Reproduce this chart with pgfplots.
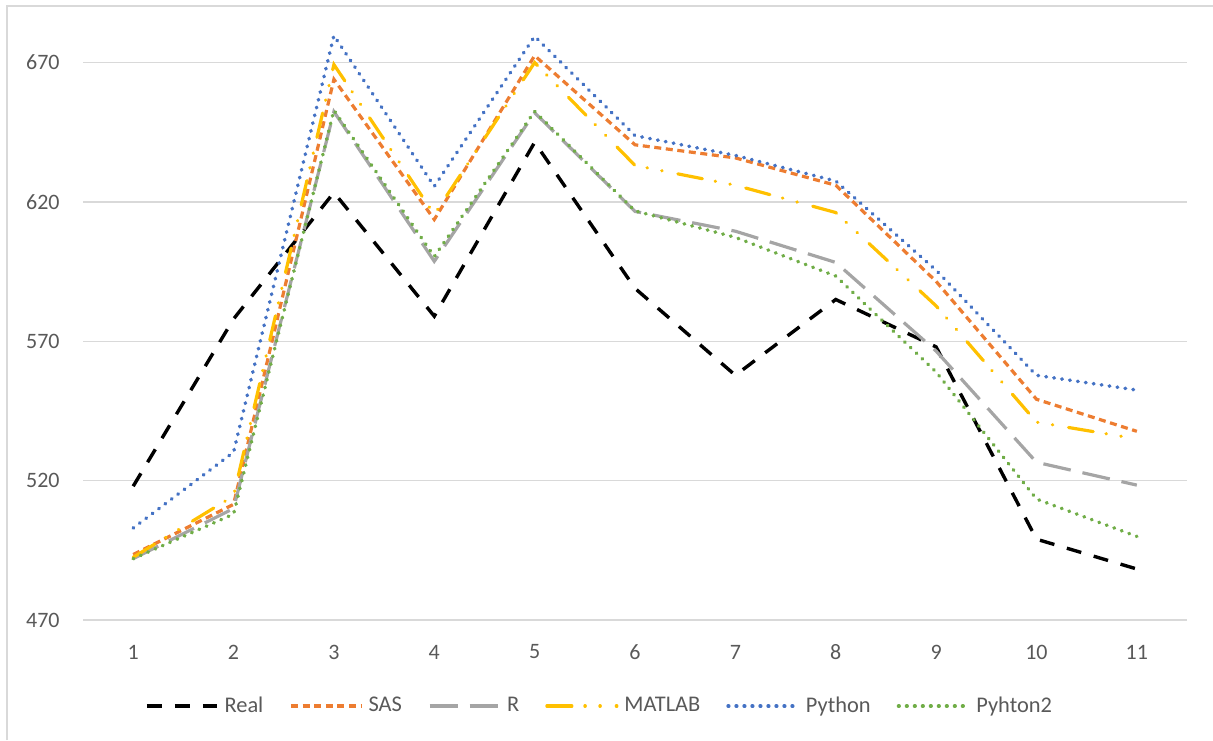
\documentclass[border=0pt]{standalone}
\usepackage{pgfplots}
\pgfplotsset{compat=1.18}
\usepackage{fontspec}
\setmainfont{Carlito}
\definecolor{txt}{RGB}{89,89,89}
\definecolor{gridc}{RGB}{217,217,217}
\definecolor{cOrange}{RGB}{237,125,49}
\definecolor{cGray}{RGB}{165,165,165}
\definecolor{cYellow}{RGB}{255,192,0}
\definecolor{cBlue}{RGB}{68,114,196}
\definecolor{cGreen}{RGB}{112,173,71}
\begin{document}
\begin{tikzpicture}
\useasboundingbox (0pt,0pt) rectangle (606.5pt,370pt);
\draw[gridc, line width=0.75pt] (3.5pt,0pt) -- (3.5pt,367pt) -- (606.5pt,367pt);
\begin{axis}[
  at={(41.5pt,60pt)}, anchor=south west,
  scale only axis, width=552pt, height=301pt,
  xmin=0.5, xmax=11.5, ymin=470, ymax=686,
  xtick={1,...,11}, ytick={470,520,570,620,670},
  axis line style={draw=none}, tick style={draw=none},
  ymajorgrids, grid style={gridc, line width=0.75pt},
  /pgf/number format/assume math mode=true,
  tick label style={font=\fontsize{11}{13}\selectfont, text=txt},
  yticklabel style={anchor=east, inner sep=0pt, xshift=-11.5pt},
  xticklabel style={anchor=center, inner sep=0pt, yshift=-16pt},
  clip=false,
  legend columns=6,
  legend image code/.code={\draw[#1] (0pt,0pt) -- (35pt,0pt);},
  legend style={at={(0.467,-0.143)}, anchor=center, draw=none, fill=none,
    font=\fontsize{11.2}{13}\selectfont, text=txt,
    nodes={inner sep=0pt},
    /tikz/every odd column/.append style={column sep=3pt},
    /tikz/every even column/.append style={column sep=13pt}},
]
\addplot[black, line width=1.7pt, dash pattern=on 7.5pt off 6.5pt] coordinates {
(1,518) (2,578) (3,623.4) (4,579) (5,641.4) (6,589) (7,557.8) (8,585) (9,568) (10,499) (11,488.3)};
\addlegendentry{Real}
\addplot[cOrange, line width=1.6pt, dash pattern=on 3.5pt off 2.3pt] coordinates {
(1,493.5) (2,511.5) (3,664) (4,613.7) (5,672.5) (6,640.5) (7,635.8) (8,626) (9,591.5) (10,549.2) (11,537.7)};
\addlegendentry{SAS}
\addplot[cGray, line width=1.6pt, dash pattern=on 14pt off 6pt] coordinates {
(1,492) (2,510) (3,652.4) (4,598.7) (5,652) (6,616.6) (7,609.5) (8,598.3) (9,566.5) (10,526.6) (11,518.4)};
\addlegendentry{R}
\addplot[cYellow, line width=1.6pt, line cap=round, dash pattern=on 12.5pt off 6.5pt on 0.2pt off 7.3pt on 0.2pt off 8pt] coordinates {
(1,492.5) (2,514.5) (3,669.3) (4,615.5) (5,670) (6,633.1) (7,626) (8,616.2) (9,582.7) (10,541) (11,535)};
\addlegendentry{MATLAB}
\addplot[cBlue, line width=1.8pt, line cap=round, dash pattern=on 0.3pt off 3.7pt] coordinates {
(1,503) (2,530.2) (3,679.7) (4,625.6) (5,679.4) (6,643.8) (7,636.7) (8,627.5) (9,595.5) (10,557.8) (11,552.5)};
\addlegendentry{Python}
\addplot[cGreen, line width=1.8pt, line cap=round, dash pattern=on 0.3pt off 3.7pt] coordinates {
(1,492) (2,508) (3,652.9) (4,600.4) (5,652.5) (6,616.8) (7,607.3) (8,593.4) (9,559) (10,513.4) (11,500)};
\addlegendentry{Pyhton2}
\end{axis}
\end{tikzpicture}
\end{document}
